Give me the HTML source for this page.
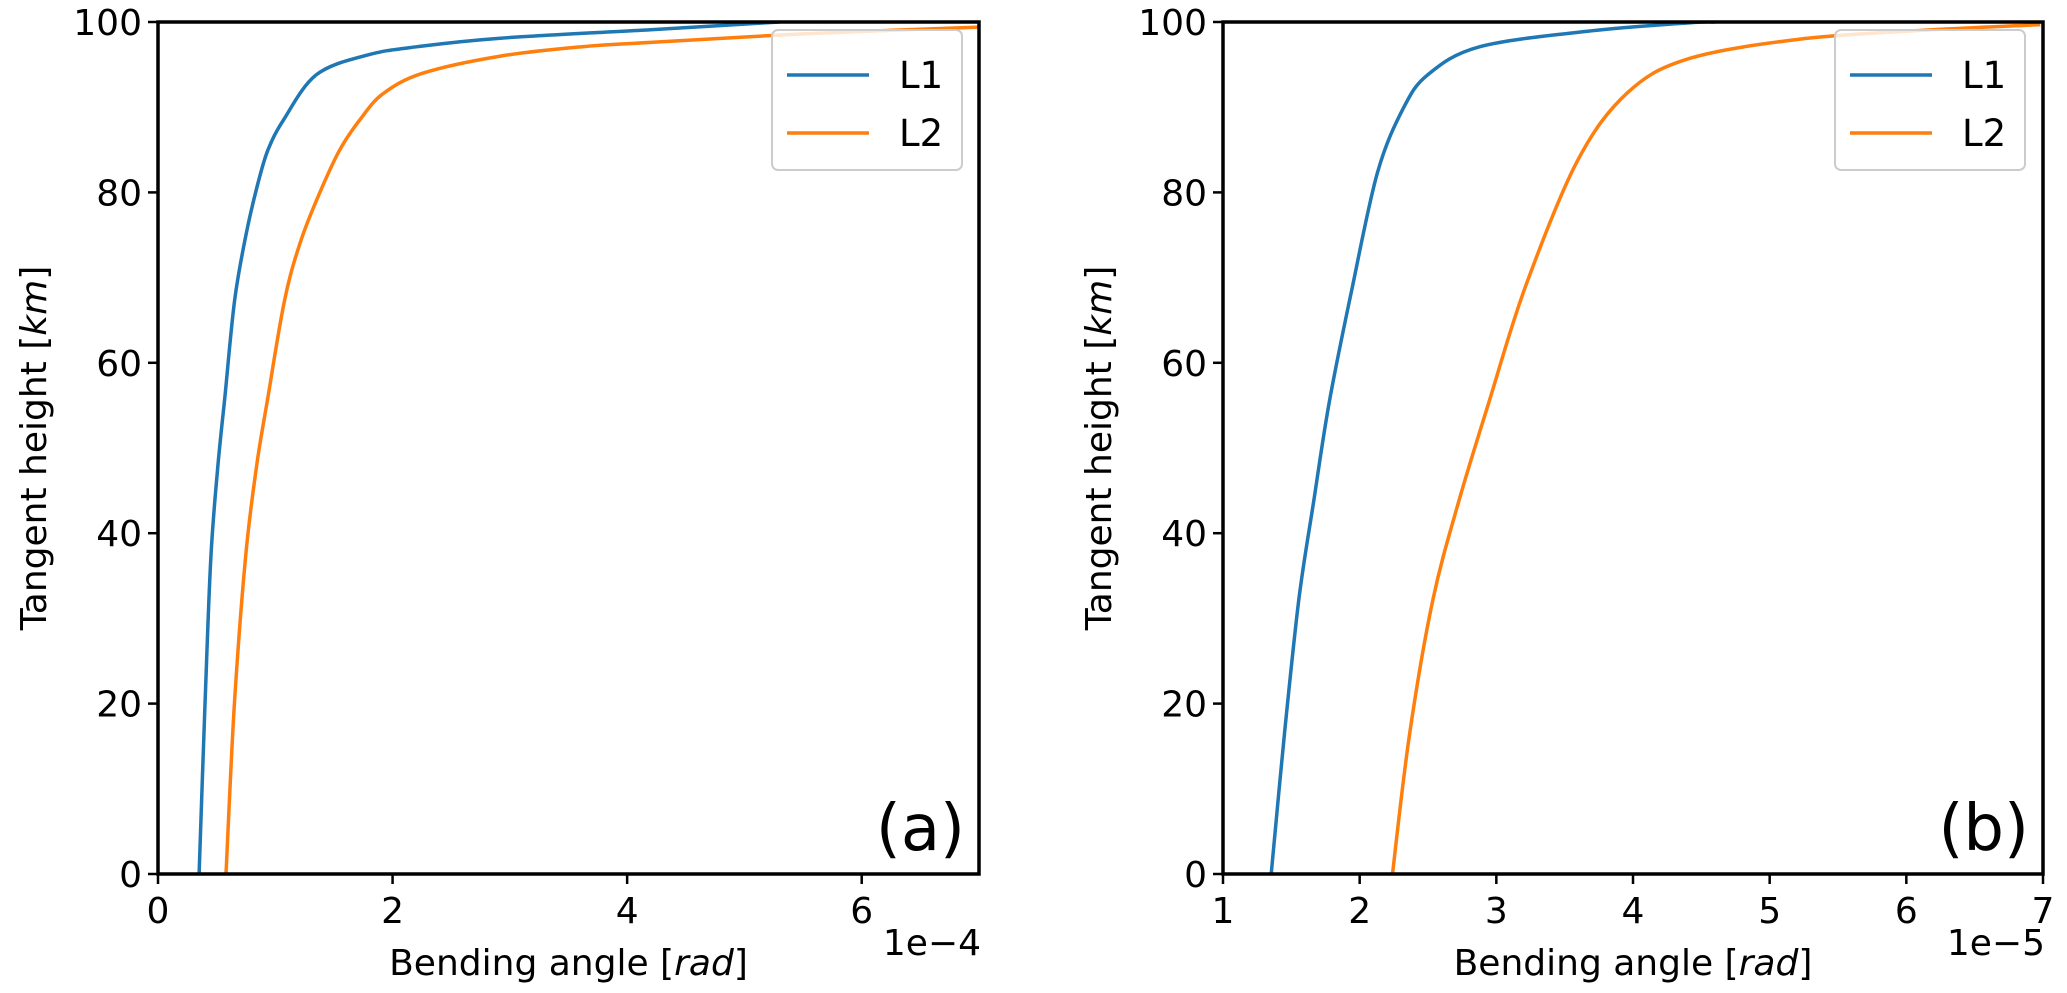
<!DOCTYPE html>
<html><head><meta charset="utf-8"><style>
body{margin:0;background:#fff}
svg{display:block;font-family:"DejaVu Sans","Liberation Sans",sans-serif}
</style></head><body>
<svg id="c" width="2067" height="993" viewBox="0 0 2067 993"></svg>
<script>
const xTicksA=[0,2,4,6];
const xTicksB=[1,2,3,4,5,6,7];
const yTicks=[0,20,40,60,80,100];
const seriesNames=["L1","L2"];
const aL1x=[0.35,0.40,0.45,0.51,0.57,0.654,0.753,0.853,0.938,1.07,1.35,1.78,2.21,2.92,4.2,5.3];
const aL1y=[0,19.6,37,47.8,56,67.4,75.2,81.1,85,88.5,93.8,96.1,97.1,98.1,99.1,100];
const aL2x=[0.58,0.65,0.745,0.84,0.935,1.08,1.22,1.39,1.55,1.72,1.92,2.26,2.92,3.62,4.2,5.5,7];
const aL2y=[0,19.6,37,47.8,55.8,67.4,74.4,80.3,85,88.5,91.6,94,96,97.1,97.6,98.6,99.4];
const bL1x=[1.353,1.45,1.555,1.665,1.78,1.945,2.13,2.32,2.505,2.88,3.66,4.41,4.6];
const bL1y=[0,16.5,32.2,43.9,55.6,68.8,82.3,89.9,93.9,97.1,98.9,99.9,100];
const bL2x=[2.24,2.366,2.536,2.73,2.95,3.21,3.59,3.96,4.41,5.23,6.1,6.98];
const bL2y=[0,16.5,32.2,44,55.6,68.8,83.6,91.7,95.7,98,99,99.7];
const NS="http://www.w3.org/2000/svg";
const svg=document.getElementById('c');
function el(t,a,p){const e=document.createElementNS(NS,t);for(const k in a)e.setAttribute(k,a[k]);(p||svg).appendChild(e);return e;}
const colors=["#1f77b4","#ff7f0e"];
function smooth(pts){
  let d='M'+pts[0][0].toFixed(1)+','+pts[0][1].toFixed(1);
  for(let i=0;i<pts.length-1;i++){
    const p0=pts[Math.max(0,i-1)],p1=pts[i],p2=pts[i+1],p3=pts[Math.min(pts.length-1,i+2)];
    const c1=[p1[0]+(p2[0]-p0[0])/6,p1[1]+(p2[1]-p0[1])/6];
    const c2=[p2[0]-(p3[0]-p1[0])/6,p2[1]-(p3[1]-p1[1])/6];
    d+='C'+c1.map(v=>v.toFixed(1)).join(',')+' '+c2.map(v=>v.toFixed(1)).join(',')+' '+p2.map(v=>v.toFixed(1)).join(',');
  }
  return d;
}
function panel(id,x0,x1,xmin,xmax,xticks,series,exp,tag,legX){
  const y0=22,y1=874;
  const g=el('g',{});
  
  
  const sx=v=>x0+(v-xmin)/(xmax-xmin)*(x1-x0);
  const sy=v=>y1-(v/100)*(y1-y0);
  const cp=el('clipPath',{id:'cp'+id},g);
  el('rect',{x:x0,y:y0,width:x1-x0,height:y1-y0},cp);
  series.forEach((s,i)=>{
    const pts=s[0].map((v,j)=>[sx(v),sy(s[1][j])]);
    const p=el('path',{d:smooth(pts),fill:'none',stroke:colors[i],'stroke-width':3.5,'clip-path':'url(#cp'+id+')'},g);
    
    
  });
  el('rect',{x:x0,y:y0,width:x1-x0,height:y1-y0,fill:'none',stroke:'#000','stroke-width':3.5},g);
  xticks.forEach(t=>{
    el('line',{x1:sx(t),x2:sx(t),y1:y1,y2:y1+10,stroke:'#000','stroke-width':2.5},g);
    const tx=el('text',{x:sx(t),y:y1+49,'font-size':36,'text-anchor':'middle'},g);tx.textContent=t;
    
    
  });
  yTicks.forEach(t=>{
    el('line',{x1:x0-10,x2:x0,y1:sy(t),y2:sy(t),stroke:'#000','stroke-width':2.5},g);
    const tx=el('text',{x:x0-16,y:sy(t)+13,'font-size':36,'text-anchor':'end'},g);tx.textContent=t;
    
    
  });
  const xl=el('text',{x:(x0+x1)/2,y:975,'font-size':36,'text-anchor':'middle'},g);
  xl.innerHTML='Bending angle [<tspan font-style="italic">rad</tspan>]';
  
  
  const ex=el('text',{x:x1+2,y:955,'font-size':36,'text-anchor':'end'},g);ex.textContent=exp;
  
  
  const yl=el('text',{x:0,y:0,'font-size':36,'text-anchor':'middle',transform:`translate(${x0-112},${(y0+y1)/2}) rotate(-90)`},g);
  yl.innerHTML='Tangent height [<tspan font-style="italic">km</tspan>]';
  
  
  const tg=el('text',{x:x1-14,y:y1-24,'font-size':64,'text-anchor':'end'},g);tg.textContent=tag;
  
  
  const lg=el('g',{},g);
  
  
  el('rect',{x:legX,y:30,width:190,height:140,rx:6,fill:'#fff','fill-opacity':0.8,stroke:'#ccc','stroke-width':2},lg);
  seriesNames.forEach((n,i)=>{
    const yy=75+i*58;
    el('line',{x1:legX+15,x2:legX+97,y1:yy,y2:yy,stroke:colors[i],'stroke-width':3.5},lg);
    const t=el('text',{x:legX+127,y:yy+13,'font-size':37},lg);t.textContent=n;
    
    
  });
}
panel('a',158,979,0,7,xTicksA,[[aL1x,aL1y],[aL2x,aL2y]],'1e\u22124','(a)',772);
panel('b',1223,2043,1,7,xTicksB,[[bL1x,bL1y],[bL2x,bL2y]],'1e\u22125','(b)',1835);
</script>
</body></html>
